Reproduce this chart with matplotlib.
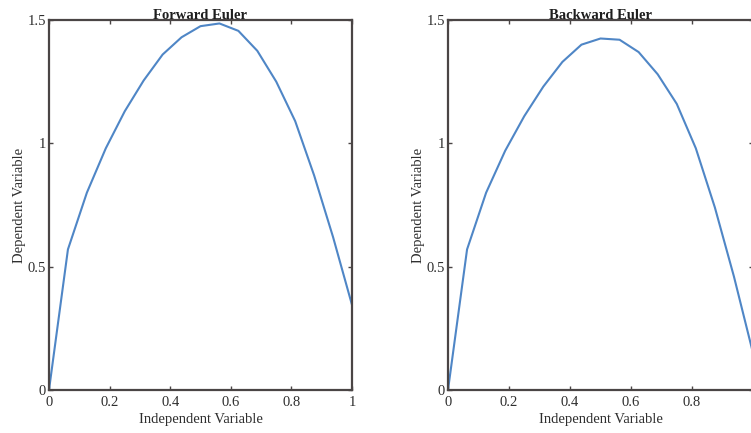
# Forward vs backward Euler solutions, side by side
import numpy as np
import matplotlib.pyplot as plt

# independent variable, step h = 1/16
xValues = np.linspace(0, 1, 17)
# forward Euler solution
forwardY = [0, 0.57, 0.80, 0.98, 1.13, 1.255, 1.36, 1.43, 1.475, 1.486,
            1.456, 1.375, 1.25, 1.09, 0.87, 0.62, 0.345]
# backward Euler solution
backwardY = [0, 0.57, 0.80, 0.97, 1.11, 1.23, 1.33, 1.40, 1.425, 1.42,
             1.37, 1.28, 1.16, 0.98, 0.74, 0.46, 0.15]

titles = ['Forward Euler', 'Backward Euler']
xTicks = [0, 0.2, 0.4, 0.6, 0.8, 1]
xTickLabels = ['0', '0.2', '0.4', '0.6', '0.8', '1']
# right panel is cropped at the figure edge, its last label falls outside
xTickLabelsCropped = ['0', '0.2', '0.4', '0.6', '0.8', '']
yTicks = [0, 0.5, 1, 1.5]
yTickLabels = ['0', '0.5', '1', '1.5']

plt.rcParams['font.family'] = ['Liberation Serif', 'DejaVu Serif']

fig = plt.figure(figsize=(7.51, 4.33), dpi=100)
ax1 = fig.add_axes([49/751, 43/433, 303/751, 370/433])
ax2 = fig.add_axes([448/751, 43/433, 305/751, 370/433])

spineColor = '#4a4545'
for ax, yData, title, xLabs in zip([ax1, ax2], [forwardY, backwardY], titles,
                                   [xTickLabels, xTickLabelsCropped]):
    ax.plot(xValues, yData, color='#4f86c6', linewidth=1.5)
    ax.set_xlim(0, 1)
    ax.set_ylim(0, 1.5)
    ax.set_xticks(xTicks)
    ax.set_xticklabels(xLabs)
    ax.set_yticks(yTicks)
    ax.set_yticklabels(yTickLabels)
    ax.tick_params(direction='in', top=True, right=True, length=3,
                   width=1, color=spineColor, labelsize=10.5,
                   labelcolor='#2e2e2e')
    ax.tick_params(axis='x', pad=4)
    ax.tick_params(axis='y', pad=2)
    for s in ax.spines.values():
        s.set_color(spineColor)
        s.set_linewidth(1.6)
    ax.set_title(title, fontsize=10.5, fontweight='bold', pad=1,
                 color='#1e1e1e')
    ax.set_xlabel('Independent Variable', fontsize=10.5, labelpad=3,
                  color='#2e2e2e')
    ax.set_ylabel('Dependent Variable', fontsize=10.5, labelpad=1,
                  color='#2e2e2e')

fig.savefig('out.png', dpi=100)
